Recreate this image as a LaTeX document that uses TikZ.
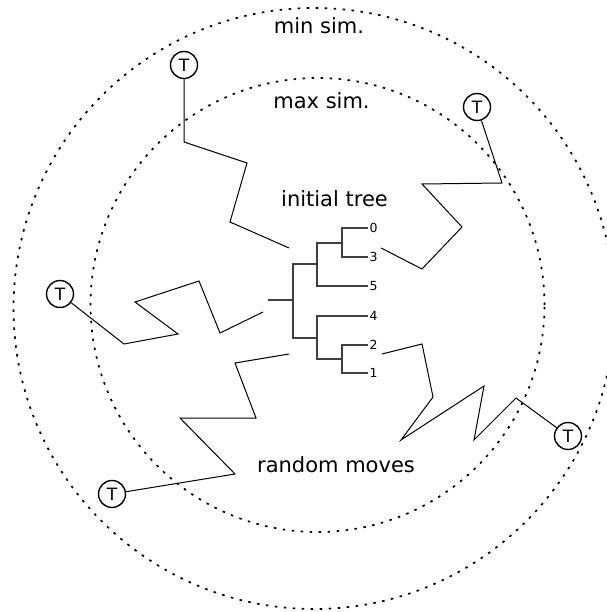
\documentclass[tikz,border=0pt]{standalone}
\usepackage{fontspec}
\setmainfont{DejaVu Sans}
\tikzset{
  zone/.style={line width=1.7pt, dash pattern=on 2.5pt off 6.5pt},
  branch/.style={line width=2pt, black!75},
  walk/.style={line width=1pt},
  term/.style={circle, draw, line width=1.4pt, minimum size=27pt, inner sep=0pt,
               font=\fontsize{17}{17}\selectfont},
  leaf/.style={anchor=west, inner sep=1.5pt, font=\fontsize{12.5}{12.5}\selectfont},
  lbl/.style={anchor=base, inner sep=0pt, font=\fontsize{21}{21}\selectfont}
}

\begin{document}
\begin{tikzpicture}[x=1pt, y=-1pt]
  \useasboundingbox (0,0) rectangle (606,612);
  % similarity bounds
  \draw[zone] (314,308.5) circle[radius=300.5pt];
  \draw[zone] (317.5,305) circle[radius=227pt];
  \node[lbl] (minsim) at (319,34) {min sim.};
  \node[lbl] (maxsim) at (321.5,109) {max sim.};
  \node[lbl] (init) at (334.5,207) {initial tree};
  \node[lbl] (moves) at (336,472) {random moves};

  % starting tree
  \node[leaf] (l0) at (368,228) {0};
  \node[leaf] (l3) at (368,257) {3};
  \node[leaf] (l5) at (368,286) {5};
  \node[leaf] (l4) at (368,316) {4};
  \node[leaf] (l2) at (368,345) {2};
  \node[leaf] (l1) at (368,373) {1};
  \coordinate (c) at (342,242.5);
  \coordinate (d) at (342,359);
  \coordinate (a) at (317,264);
  \coordinate (b) at (317,337.5);
  \coordinate (r) at (293,300);
  \coordinate (root) at (268,300);
  \draw[branch] (root) -- (r);
  \draw[branch] (a) -| (r) |- (b);
  \draw[branch] (c) -| (a) |- (l5.west);
  \draw[branch] (l0.west) -| (c) |- (l3.west);
  \draw[branch] (l4.west) -| (b) |- (d);
  \draw[branch] (l2.west) -| (d) |- (l1.west);

  % end points of the walks
  \node[term] (t1) at (184,65) {T};
  \node[term] (t2) at (477,107) {T};
  \node[term] (t3) at (60,294) {T};
  \node[term] (t4) at (112,494) {T};
  \node[term] (t5) at (568,436) {T};

  \coordinate (w1) at (289,248);
  \coordinate (w2) at (381,248);
  \coordinate (w3) at (263,312);
  \coordinate (w4) at (289,354);
  \coordinate (w5) at (382,354);

  \draw[walk] (w1) -- (230,222) -- (247,163) -- (184,142) -- (t1);
  \draw[walk] (w2) -- (422,269) -- (462,227) -- (422,184) -- (502,183) -- (t2);
  \draw[walk] (w3) -- (220,333) -- (199,281) -- (135,302) -- (178,334) -- (124,344) -- (t3);
  \draw[walk] (w4) -- (235,363) -- (256,418) -- (180,418) -- (235,474) -- (t4);
  \draw[walk] (w5) -- (422,344) -- (433,397) -- (401,440) -- (484,386) -- (474,440) -- (516,398) -- (t5);
\end{tikzpicture}
\end{document}
